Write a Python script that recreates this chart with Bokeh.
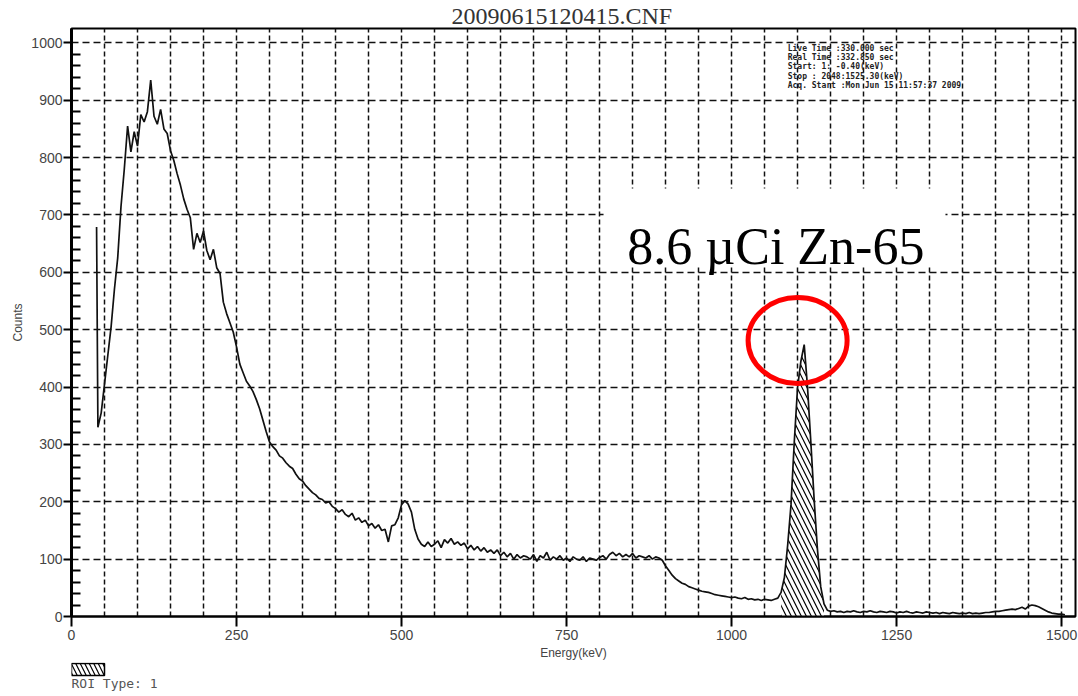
from bokeh.plotting import figure
from bokeh.models import Range1d, FixedTicker, Label, BoxAnnotation
from bokeh.layouts import column
from bokeh.embed import file_html
from bokeh.resources import INLINE
from bokeh.core.properties import value

# ---------------- data ----------------
title_text = "20090615120415.CNF"
x_label = "Energy(keV)"
y_label = "Counts"
annotation_text = "8.6 µCi Zn-65"
roi_text = "ROI Type: 1"
info_lines = [
    "Live Time  :330.000 sec",
    "Real Time  :332.850 sec",
    "Start:    1:  -0.40(keV)",
    "Stop : 2048:1525.30(keV)",
    "Acq. Start :Mon Jun 15 11:57:37 2009",
]

energy = [38] + list(range(40, 1506, 5))
counts = [679,
    330, 355, 405, 455, 505, 570, 625, 715, 780, 855,      # 40-85
    810, 845, 820, 875, 862, 880, 935, 872, 858, 884,      # 90-135
    850, 842, 812, 795, 772, 752, 728, 710, 695, 640,      # 140-185
    668, 652, 672, 638, 622, 640, 608, 598, 548, 528,      # 190-235
    512, 496, 470, 440, 425, 410, 402, 392, 378, 362,      # 240-285
    342, 322, 304, 296, 290, 280, 276, 268, 262, 258,      # 290-335
    248, 240, 236, 228, 222, 216, 212, 206, 204, 198,      # 340-385
    200, 192, 188, 182, 186, 178, 174, 180, 168, 172,      # 390-435
    164, 168, 158, 162, 154, 160, 150, 152, 130, 158,      # 440-485
    160, 172, 195, 202, 196, 182, 152, 135, 126, 122,      # 490-535
    130, 122, 126, 132, 120, 134, 128, 136, 126, 130,      # 540-585
    124, 128, 118, 124, 116, 122, 114, 120, 112, 116,      # 590-635
    110, 116, 106, 112, 104, 110, 100, 108, 102, 106,      # 640-685
    104, 100, 108, 96, 106, 102, 112, 98, 104, 100,        # 690-735
    106, 98, 102, 96, 104, 100, 98, 104, 96, 102,          # 740-785
    100, 98, 103, 106, 100, 108, 112, 106, 110, 104,       # 790-835
    108, 104, 110, 102, 106, 104, 102, 106, 100, 104,      # 840-885
    102, 98, 88, 80, 72, 66, 62, 58, 56, 52,               # 890-935
    50, 48, 46, 44, 43, 42, 40, 38, 37, 36,                # 940-985
    35, 34, 33, 34, 32, 31, 33, 30, 31, 29,                # 990-1035
    30, 28, 30, 29, 28, 30, 32, 42, 68, 125,               # 1040-1085
    195, 305, 400, 445, 474, 400, 305, 205, 118, 52,       # 1090-1135
    22, 11, 9, 10, 8, 9, 7, 9, 8, 10,                      # 1140-1185
    8, 7, 9, 8, 10, 8, 7, 9, 8, 7,                         # 1190-1235
    9, 8, 6, 8, 7, 9, 7, 6, 8, 7,                          # 1240-1285
    6, 8, 7, 6, 7, 5, 7, 6, 5, 7,                          # 1290-1335
    6, 5, 6, 5, 7, 5, 6, 5, 6, 7,                          # 1340-1385
    7, 8, 9, 9, 10, 11, 12, 13, 12, 14,                    # 1390-1435
    16, 13, 18, 20, 19, 17, 14, 11, 8, 6,                  # 1440-1485
    5, 4, 4, 3,                                            # 1490-1505
]
assert len(energy) == len(counts)

roi_start, roi_end = 1075, 1140

x_ticks = [0, 250, 500, 750, 1000, 1250, 1500]
x_grid_ticks = list(range(50, 1501, 50))
y_ticks = list(range(0, 1001, 100))
y_minor_ticks = [v for v in range(20, 1000, 20) if v % 100]

# ---------------- figure ----------------
LABEL_FONT = "Liberation Sans"

p = figure(width=1078, height=662,
           x_range=Range1d(0, 1521), y_range=Range1d(0, 1025),
           output_backend="svg", toolbar_location=None,
           min_border_left=71, min_border_right=3,
           min_border_top=28, min_border_bottom=46)
p.background_fill_color = "white"
p.border_fill_color = "white"
p.outline_line_color = "black"
p.outline_line_width = 2

p.title.text = title_text
p.title.align = "left"
p.title.offset = 380
p.title.standoff = 0
p.title.text_font = "Liberation Serif"
p.title.text_font_size = "24px"
p.title.text_font_style = "normal"
p.title.text_color = "#333333"

# axes
p.xaxis.ticker = FixedTicker(ticks=x_ticks, minor_ticks=[])
p.yaxis.ticker = FixedTicker(ticks=y_ticks, minor_ticks=y_minor_ticks)
p.xgrid.ticker = FixedTicker(ticks=x_grid_ticks)
p.ygrid.ticker = FixedTicker(ticks=y_ticks[1:])

p.xaxis.axis_label = x_label
p.yaxis.axis_label = y_label
for ax in (p.xaxis, p.yaxis):
    ax.axis_line_color = "black"
    ax.major_tick_line_color = "black"
    ax.major_tick_line_width = 2
    ax.major_tick_in = 0
    ax.major_label_text_font = LABEL_FONT
    ax.major_label_text_font_size = "14px"
    ax.major_label_text_color = "#444444"
    ax.axis_label_text_font = LABEL_FONT
    ax.axis_label_text_font_size = "12px"
    ax.axis_label_text_font_style = "normal"
    ax.axis_label_text_color = "#444444"

p.xaxis.axis_line_width = 2
p.xaxis.major_tick_out = 10
p.xaxis.major_label_standoff = 3
p.xaxis.axis_label_standoff = 3
p.xaxis.minor_tick_line_color = None

p.yaxis.axis_line_width = 3
p.yaxis.major_tick_out = 8
p.yaxis.major_label_standoff = 1
p.yaxis.axis_label_standoff = 3
p.yaxis.minor_tick_in = 9
p.yaxis.minor_tick_out = 0
p.yaxis.minor_tick_line_color = "black"
p.yaxis.minor_tick_line_width = 2

p.xgrid.grid_line_color = "#111111"
p.xgrid.grid_line_width = 1.5
p.xgrid.grid_line_dash = "5 3"
p.ygrid.grid_line_color = "#111111"
p.ygrid.grid_line_width = 1.5
p.ygrid.grid_line_dash = "7 4"

# ROI hatched area
roi_x = [e for e in energy if roi_start <= e <= roi_end]
roi_y = [c for e, c in zip(energy, counts) if roi_start <= e <= roi_end]
p.varea(x=roi_x, y1=0, y2=roi_y, fill_color="white",
        hatch_pattern="\\", hatch_color="black", hatch_scale=10, hatch_weight=1.2)

# spectrum
p.line(energy, counts, line_color="#111111", line_width=1.7)

# info block
info_y = [991, 975, 959, 941, 926]
for txt, yy in zip(info_lines, info_y):
    p.add_layout(Label(x=1085, y=yy, text=txt, text_font="DejaVu Sans Mono",
                       text_font_size="8px", text_font_style="bold",
                       text_color="#222222", text_baseline="middle"))

# big annotation with white box
p.add_layout(BoxAnnotation(left=806, right=1324, bottom=610, top=746,
                           fill_color="white", fill_alpha=1.0, line_color=None))
p.add_layout(Label(x=1067, y=645, text=annotation_text, text_font="Liberation Serif",
                   text_font_size="52px", text_color="black",
                   text_align="center", text_baseline="alphabetic"))

# red circle highlighting the peak
p.ellipse(x=1100, y=481, width=150, height=150, fill_color=None,
          line_color="#ff0000", line_width=5)

# ---------------- ROI legend strip (frame aligned with main plot frame) ----------------
p2 = figure(width=1078, height=34, x_range=Range1d(0, 1004), y_range=Range1d(34, 0),
            output_backend="svg", toolbar_location=None,
            x_axis_location=None, y_axis_location=None,
            min_border_left=71, min_border_right=3, min_border_top=0, min_border_bottom=0)
p2.outline_line_color = None
p2.xgrid.visible = False
p2.ygrid.visible = False
p2.quad(left=0, right=33, top=1, bottom=13, fill_color="white",
        hatch_pattern="\\", hatch_color="black", hatch_scale=9, hatch_weight=1.2,
        line_color="black", line_width=1.5)
p2.text(x=[0], y=[21], text=[roi_text], text_font=value("DejaVu Sans Mono"),
        text_font_size="13px", text_color="#555555", text_baseline="middle")

layout = column(p, p2, spacing=0)
open("out.html", "w").write(file_html(layout, INLINE))
